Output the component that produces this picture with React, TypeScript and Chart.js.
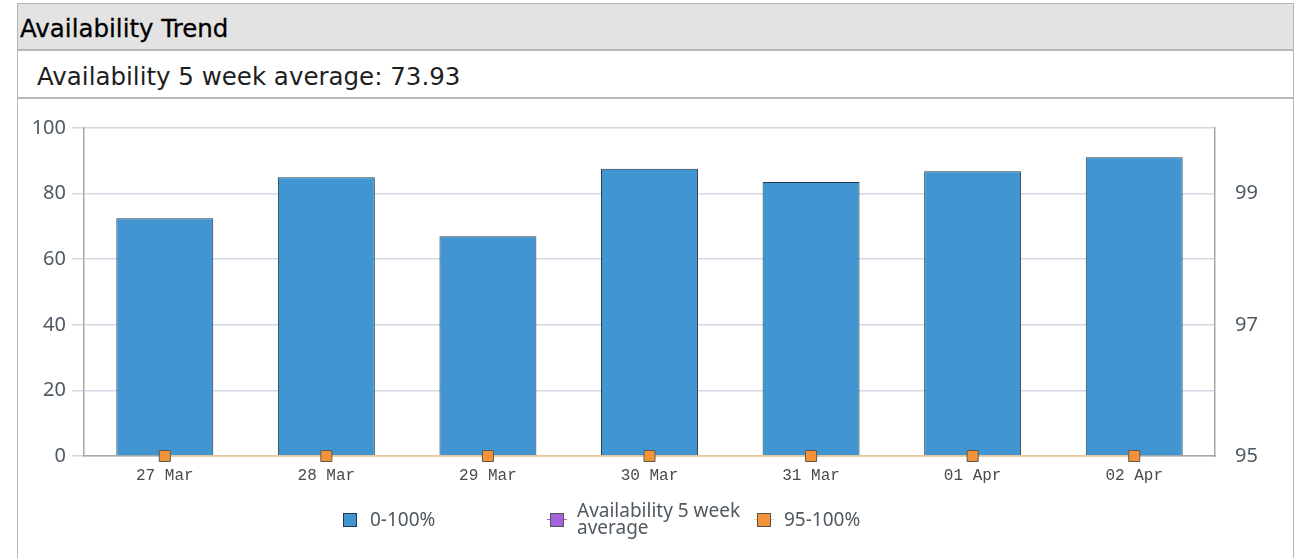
import React, { useEffect, useRef } from "react";
import { Chart, registerables } from "chart.js";

Chart.register(...registerables);

const categories = ["27 Mar", "28 Mar", "29 Mar", "30 Mar", "31 Mar", "01 Apr", "02 Apr"];
const availability = [72.5, 85.0, 67.0, 87.6, 83.5, 86.8, 91.1];
const highRange = [95, 95, 95, 95, 95, 95, 95];
const fiveWeekAverage: (number | null)[] = [null, null, null, null, null, null, null];
const leftTicks = [0, 20, 40, 60, 80, 100];
const rightTickLabels = [95, 97, 99];
const averageValue = "73.93";

const SANS = "'Noto Sans', 'DejaVu Sans', sans-serif";
const WIDE = "'DejaVu Sans', 'Noto Sans', sans-serif";
const TICK_COLOR = "#4f5963";

export default function App() {
  const ref = useRef<HTMLCanvasElement | null>(null);

  useEffect(() => {
    if (!ref.current) return;
    const chart = new Chart(ref.current, {
      type: "bar",
      data: {
        labels: categories,
        datasets: [
          {
            type: "line",
            label: "95-100%",
            data: highRange,
            yAxisID: "y1",
            borderColor: "#fbcf9f",
            borderWidth: 1.5,
            pointStyle: "rect",
            pointRadius: 7.8,
            pointBackgroundColor: "#f39237",
            pointBorderColor: "#5a5a5a",
            pointBorderWidth: 1,
            clip: false,
            order: 0,
          } as any,
          {
            type: "line",
            label: "Availability 5 week average",
            data: fiveWeekAverage,
            yAxisID: "y",
            borderColor: "#a463dc",
            pointBackgroundColor: "#a463dc",
            order: 1,
          } as any,
          {
            type: "bar",
            label: "0-100%",
            data: availability,
            yAxisID: "y",
            backgroundColor: "#4195d1",
            borderColor: "#23384d",
            borderWidth: 1,
            barPercentage: 0.6,
            categoryPercentage: 1,
            order: 2,
          },
        ],
      },
      options: {
        animation: false,
        responsive: false,
        devicePixelRatio: 1,
        layout: { padding: { top: 28, left: 0, right: 0, bottom: 0 } },
        plugins: { legend: { display: false }, tooltip: { enabled: false } },
        scales: {
          x: {
            grid: { display: false, drawTicks: false },
            border: { color: "#a8a8a8", width: 1.5 },
            ticks: {
              font: { family: "'Liberation Mono', 'DejaVu Sans Mono', monospace", size: 16 },
              color: "#4a4a4a",
              padding: 10,
              maxRotation: 0,
            },
            afterFit: (s: any) => {
              s.height = 44;
            },
          },
          y: {
            position: "left",
            min: 0,
            max: 100,
            afterBuildTicks: (s: any) => {
              s.ticks = leftTicks.map((v) => ({ value: v }));
            },
            grid: { color: "#d6d6e4", lineWidth: 1.5, tickLength: 12, tickColor: "#d6d6e4" },
            border: { color: "#a8a8a8", width: 1.5 },
            ticks: {
              font: { family: SANS, size: 20 },
              color: TICK_COLOR,
              padding: 6,
            },
            afterFit: (s: any) => {
              s.width = 66;
            },
          },
          y1: {
            position: "right",
            min: 95,
            max: 100,
            afterBuildTicks: (s: any) => {
              s.ticks = rightTickLabels.map((v) => ({ value: v }));
            },
            grid: { display: false, drawTicks: false },
            border: { color: "#a8a8a8", width: 1.5 },
            ticks: {
              font: { family: SANS, size: 20 },
              color: TICK_COLOR,
              padding: 20,
            },
            afterFit: (s: any) => {
              s.width = 77;
            },
          },
        },
      },
    });
    return () => chart.destroy();
  }, []);

  const legendText: React.CSSProperties = {
    position: "absolute",
    fontFamily: SANS,
    fontSize: 19,
    color: "#505860",
    lineHeight: "17px",
    whiteSpace: "nowrap",
  };

  return (
    <div
      style={{
        position: "absolute",
        left: 0,
        top: 0,
        width: 1299,
        height: 558,
        background: "#fff",
        overflow: "hidden",
      }}
    >
      <div
        style={{
          position: "absolute",
          left: 17,
          top: 3,
          width: 1275,
          height: 600,
          borderLeft: "1.5px solid #b4b8bc",
          borderRight: "1.5px solid #b4b8bc",
          borderTop: "1.5px solid #b4b8bc",
        }}
      />
      <div
        style={{
          position: "absolute",
          left: 18,
          top: 4,
          width: 1275,
          height: 45,
          background: "#e3e3e3",
          borderBottom: "2px solid #b4b8bc",
        }}
      />
      <div
        style={{
          position: "absolute",
          left: 20,
          top: 14,
          fontFamily: WIDE,
          fontSize: 24.5,
          color: "#000",
          lineHeight: "30px",
          whiteSpace: "nowrap",
          WebkitTextStroke: "0.3px #000",
        }}
      >
        Availability Trend
      </div>
      <div
        style={{
          position: "absolute",
          left: 37,
          top: 61,
          fontFamily: WIDE,
          fontSize: 24.5,
          color: "#1e1e1e",
          lineHeight: "32px",
          whiteSpace: "nowrap",
        }}
      >
        Availability 5 week average: {averageValue}
      </div>
      <div
        style={{
          position: "absolute",
          left: 18,
          top: 97,
          width: 1275,
          height: 0,
          borderBottom: "2px solid #b4b8bc",
        }}
      />
      <canvas
        ref={ref}
        width={1274}
        height={404}
        style={{ position: "absolute", left: 18, top: 96, width: 1274, height: 404 }}
      />
      <div style={{ position: "absolute", left: 343, top: 513, width: 12, height: 12, background: "#4195d1", border: "1px solid #1d3a55" }} />
      <div style={{ ...legendText, left: 370, top: 511 }}>0-100%</div>

      <div style={{ position: "absolute", left: 547, top: 519, width: 20, height: 1, background: "#a463dc" }} />
      <div style={{ position: "absolute", left: 550, top: 513, width: 12, height: 12, background: "#a463dc", border: "1px solid #555" }} />
      <div style={{ ...legendText, left: 577, top: 502 }}>
        Availability 5 week
        <br />
        average
      </div>

      <div style={{ position: "absolute", left: 754, top: 519, width: 20, height: 1, background: "#fbcf9f" }} />
      <div style={{ position: "absolute", left: 757, top: 513, width: 12, height: 12, background: "#f39237", border: "1px solid #555" }} />
      <div style={{ ...legendText, left: 784, top: 511 }}>95-100%</div>
    </div>
  );
}
